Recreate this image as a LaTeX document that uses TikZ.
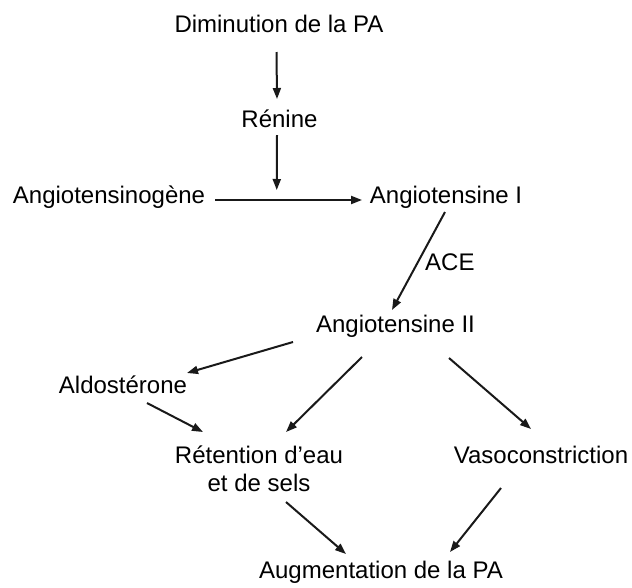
\documentclass[tikz,border=0pt]{standalone}
\usepackage{fontspec}
\setmainfont{Liberation Sans}
\usetikzlibrary{arrows.meta}
\begin{document}
\begin{tikzpicture}[x=1pt,y=-1pt,
  lbl/.style={inner sep=0pt,anchor=base,font=\fontsize{24}{28}\selectfont},
  arr/.style={draw=black!90,line width=2pt,-{Triangle[length=11pt,width=8pt]}}]
\useasboundingbox (0,0) rectangle (632,587);
\node[lbl] (dim)  at (279,32)  {Diminution de la PA};
\node[lbl] (ren)  at (279.5,127) {Rénine};
\node[lbl] (agen) at (109,203) {Angiotensinogène};
\node[lbl] (ang1) at (446,203) {Angiotensine I};
\node[lbl] (ang2) at (395.5,332) {Angiotensine II};
\node[lbl] (aldo) at (123,393) {Aldostérone};
\node[lbl,align=center] (ret) at (259,491) {Rétention d’eau\\et de sels};
\node[lbl] (vaso) at (541,463) {Vasoconstriction};
\node[lbl] (aug)  at (381,578) {Augmentation de la PA};
% conversion arrow and renin's action point
\draw[arr] ([shift={(106,-3)}]agen.base) -- ([shift={(-84,-3)}]ang1.base)
  coordinate[pos=0.42] (act);
\draw[arr] ([shift={(-2.5,20)}]dim.base) -- ([shift={(-2.5,-28)}]ren.base);
\draw[arr] ([shift={(-2.5,8)}]ren.base) -- ([yshift=10pt]act);
% ACE step
\draw[arr] ([shift={(-1,9)}]ang1.base) -- node[pos=0.6,lbl,anchor=base west,xshift=11pt]{ACE} ([shift={(-3.5,-22)}]ang2.base);
% downstream effects
\draw[arr] ([shift={(-102.5,10)}]ang2.base) -- ([shift={(64,-20)}]aldo.base);
\draw[arr] ([shift={(-33.5,25)}]ang2.base) -- ([shift={(27,-59)}]ret.base);
\draw[arr] ([shift={(53.5,26)}]ang2.base) -- ([shift={(-10,-34)}]vaso.base);
\draw[arr] ([shift={(24,10)}]aldo.base) -- ([shift={(-56,-59)}]ret.base);
\draw[arr] ([shift={(27,11)}]ret.base) -- ([shift={(-35,-24)}]aug.base);
\draw[arr] ([shift={(-40,25)}]vaso.base) -- ([shift={(69,-26)}]aug.base);
\end{tikzpicture}
\end{document}
